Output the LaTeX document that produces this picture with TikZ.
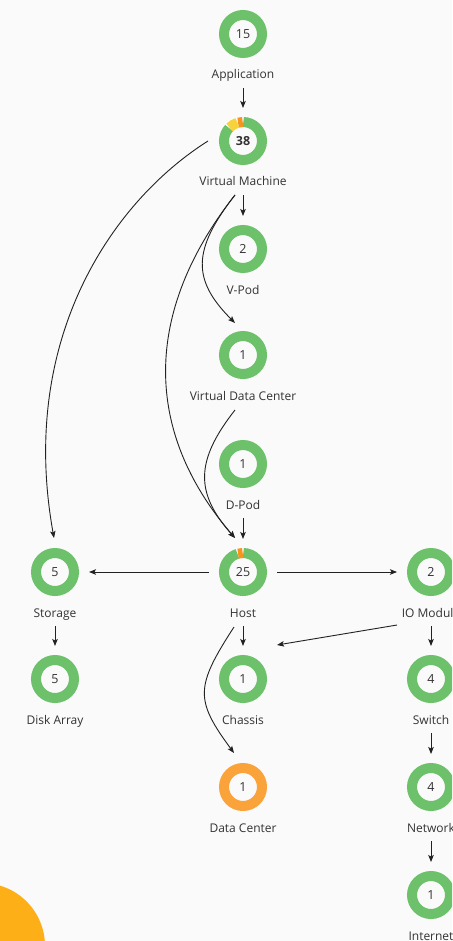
\documentclass[tikz,border=0pt]{standalone}
\usepackage{fontspec}
\setmainfont{Open Sans}
\usetikzlibrary{arrows.meta}
\definecolor{bgc}{HTML}{FAFAFA}
\definecolor{rgreen}{HTML}{6CC16A}
\definecolor{rorange}{HTML}{F9A33A}
\definecolor{segorange}{HTML}{F7941D}
\definecolor{segyellow}{HTML}{F6D33C}
\definecolor{blob}{HTML}{FCAF17}
\definecolor{txt}{HTML}{333333}
\definecolor{edge}{HTML}{222222}
\tikzset{
 ring/.style={circle, minimum size=38pt, inner sep=0pt, outer sep=5pt, line width=10pt, draw=rgreen, font=\fontsize{12.5}{14}\selectfont, text=txt},
 lbl/.style={anchor=base, inner sep=0pt, text depth=3pt, font=\fontsize{12}{14}\selectfont, text=txt},
 conn/.style={draw=edge, line width=0.9pt, -{Stealth[length=7pt,width=5.5pt,inset=1.5pt]}},
 down/.style={conn, shorten <=6pt, shorten >=9pt},
 side/.style={conn, shorten <=10pt, shorten >=10pt},
 seg/.style={line width=10pt},
}
\begin{document}
\begin{tikzpicture}[x=1pt,y=-1pt]
\useasboundingbox (0,0) rectangle (452,941);
\clip (0,0) rectangle (452,941);
\fill[bgc] (0,0) rectangle (452,941);
\fill[blob] (-18,946) circle[radius=63];

\node[ring] (app) at (243,34) {15};
\node[lbl] (applbl) at (243,79) {Application};
\node[ring, draw=none, font=\fontsize{12.5}{14}\bfseries] (vm) at (243,141) {38};
\draw[seg, rgreen] ([shift={(-89:19)}]vm.center) arc[start angle=-89, end angle=223, radius=19];
\draw[seg, segorange] ([shift={(-91:19)}]vm.center) arc[start angle=-91, end angle=-105, radius=19];
\draw[seg, segyellow] ([shift={(-107:19)}]vm.center) arc[start angle=-107, end angle=-135, radius=19];
\node[lbl] (vmlbl) at (243,186) {Virtual Machine};
\node[ring] (vpod) at (243,249) {2};
\node[lbl] (vpodlbl) at (243,294) {V-Pod};
\node[ring] (vdc) at (243,355) {1};
\node[lbl] (vdclbl) at (243,400) {Virtual Data Center};
\node[ring] (dpod) at (243,464) {1};
\node[lbl] (dpodlbl) at (243,509) {D-Pod};
\node[ring, draw=none] (host) at (243,572) {25};
\draw[seg, rgreen] ([shift={(-89:19)}]host.center) arc[start angle=-89, end angle=253, radius=19];
\draw[seg, segorange] ([shift={(-91:19)}]host.center) arc[start angle=-91, end angle=-105, radius=19];
\node[lbl] (hostlbl) at (243,617) {Host};
\node[ring] (chassis) at (243,679) {1};
\node[lbl] (chassislbl) at (243,724) {Chassis};
\node[ring, draw=rorange] (dc) at (243,787) {1};
\node[lbl] (dclbl) at (243,832) {Data Center};
\node[ring] (storage) at (55,572) {5};
\node[lbl] (storagelbl) at (55,617) {Storage};
\node[ring] (disk) at (55,679) {5};
\node[lbl] (disklbl) at (55,724) {Disk Array};
\node[ring] (io) at (431,572) {2};
\node[lbl] (iolbl) at (431,617) {IO Module};
\node[ring] (switch) at (431,679) {4};
\node[lbl] (switchlbl) at (431,724) {Switch};
\node[ring] (network) at (431,787) {4};
\node[lbl] (networklbl) at (431,832) {Network};
\node[ring] (internet) at (431,895) {1};
\node[lbl] (internetlbl) at (431,940) {Internet};

\draw[down] (applbl.south) -- (vm.north);
\draw[down] (vmlbl.south) -- (vpod.north);
\draw[down] (dpodlbl.south) -- (host.north);
\draw[down] (hostlbl.south) -- (chassis.north);
\draw[down] (storagelbl.south) -- (disk.north);
\draw[down] (iolbl.south) -- (switch.north);
\draw[down] (switchlbl.south) -- (network.north);
\draw[down] (networklbl.south) -- (internet.north);
\draw[side] (host.west) -- (storage.east);
\draw[side] (host.east) -- (io.west);
\draw[conn] ([shift={(-34,53)}]io.center) -- ([shift={(34,-34)}]chassis.center);

\draw[conn] ([shift={(-35,0)}]vm.center) .. controls (113,201) and (18,338) .. ([shift={(-1,-34)}]storage.center);
\draw[conn] ([shift={(-8,54)}]vm.center) .. controls (143,312) and (143,431) .. ([shift={(-8,-34)}]host.center);
\draw[conn] ([shift={(-8,54)}]vm.center) .. controls (192,250) and (192,280) .. ([shift={(-8,-32)}]vdc.center);
\draw[conn] ([shift={(-8,55)}]vdc.center) .. controls (195,461) and (195,493) .. ([shift={(-8,-34)}]host.center);
\draw[conn] ([shift={(-9,55)}]host.center) .. controls (195,687) and (195,700) .. ([shift={(-9,-34)}]dc.center);
\end{tikzpicture}
\end{document}
